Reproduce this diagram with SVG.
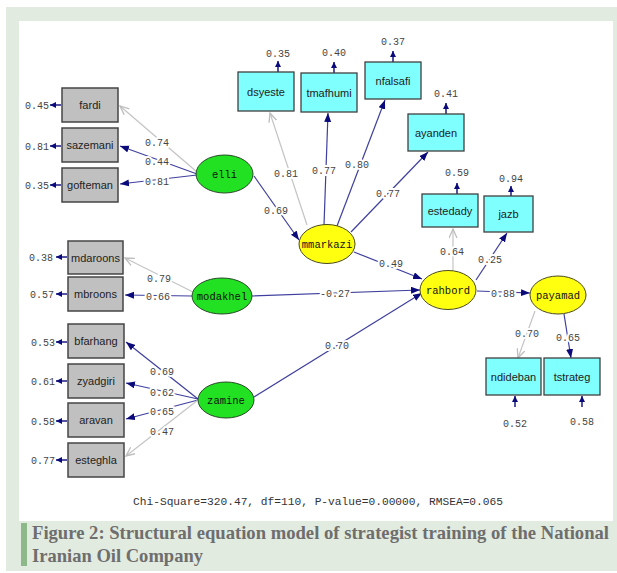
<svg xmlns="http://www.w3.org/2000/svg" width="617" height="573" viewBox="0 0 617 573">
<style>
.obs{fill:#c0c0c0;stroke:#454545;stroke-width:1.5}
.cy{fill:#80ffff;stroke:#404040;stroke-width:1.3}
.lg{fill:#22e022;stroke:#2a4a2a;stroke-width:1}
.ly{fill:#ffff10;stroke:#4a4a20;stroke-width:1}
.bt{font-family:"Liberation Sans",Arial,sans-serif;font-size:11px;fill:#222;text-anchor:middle}
.lt{font-family:"Liberation Mono","Courier New",monospace;font-size:10.5px;fill:#111;text-anchor:middle}
.num{font-family:"Liberation Mono","Courier New",monospace;font-size:10px;fill:#444;text-anchor:middle}
.coef{paint-order:stroke;stroke:#fff;stroke-width:4px;stroke-linejoin:round}
.nv{stroke:#3f3f9e;stroke-width:1.2;fill:none;marker-end:url(#an)}
.gr{stroke:#c4c4c4;stroke-width:1.2;fill:none;marker-end:url(#ag)}
.er{stroke:#1a1a80;stroke-width:1.5;fill:none;marker-end:url(#ae)}
.cap{font-family:"Liberation Serif","Times New Roman",serif;font-weight:bold;font-size:18px;fill:#6e6e6e}
</style>
<defs>
<marker id="an" markerUnits="userSpaceOnUse" markerWidth="10" markerHeight="8" refX="9" refY="3.5" orient="auto"><path d="M0,0 L9,3.5 L0,7 z" fill="#0a0a7a"/></marker>
<marker id="ag" markerUnits="userSpaceOnUse" markerWidth="11" markerHeight="10" refX="9" refY="4.5" orient="auto"><path d="M0,0.5 L9,4.5 L0,8.5" fill="none" stroke="#bdbdbd" stroke-width="1.3"/></marker>
<marker id="ae" markerUnits="userSpaceOnUse" markerWidth="8" markerHeight="7" refX="6" refY="3" orient="auto"><path d="M0,0 L6,3 L0,6 z" fill="#0a0a7a"/></marker>
</defs>
<rect x="6" y="7" width="611" height="564" fill="#e2ebe0"/>
<rect x="19" y="21" width="594" height="500" fill="#ffffff"/>

<g id="connectors">
<path class="gr" d="M197,172 L120,106"/>
<path class="nv" d="M197,174 L120,146"/>
<path class="nv" d="M197,175 L120,184"/>
<path class="nv" d="M254,176 L299,240"/>
<path class="gr" d="M307,225 L270,113"/>
<path class="nv" d="M324,225 L328,113"/>
<path class="nv" d="M337,226 L385,100"/>
<path class="nv" d="M351,232 L428,152"/>
<path class="nv" d="M354,252 L422,279"/>
<path class="nv" d="M252,296 L420,290"/>
<path class="nv" d="M254,397 L422,293"/>
<path class="gr" d="M453,271 L453,229"/>
<path class="nv" d="M476,280 L507,233"/>
<path class="nv" d="M477,291 L530,293"/>
<path class="gr" d="M535,311 L518,358"/>
<path class="nv" d="M564,314 L571,358"/>
<path class="gr" d="M193,292 L125,258"/>
<path class="nv" d="M192,296 L125,295"/>
<path class="nv" d="M198,399 L126,342"/>
<path class="nv" d="M198,399 L126,383"/>
<path class="nv" d="M198,400 L126,419"/>
<path class="gr" d="M198,400 L126,456"/>
<path class="er" d="M61,105 L50,105"/>
<path class="er" d="M61,146 L50,146"/>
<path class="er" d="M61,185 L50,185"/>
<path class="er" d="M67,257 L56,257"/>
<path class="er" d="M67,294 L56,294"/>
<path class="er" d="M67,342 L56,342"/>
<path class="er" d="M67,381 L56,381"/>
<path class="er" d="M67,421 L56,421"/>
<path class="er" d="M67,460 L56,460"/>
<path class="er" d="M278,72 L278,61"/>
<path class="er" d="M334,73 L334,62"/>
<path class="er" d="M393,62 L393,51"/>
<path class="er" d="M446,114 L446,103"/>
<path class="er" d="M457,194 L457,183"/>
<path class="er" d="M511,196 L511,186"/>
<path class="er" d="M515,407 L515,396"/>
<path class="er" d="M582,407 L582,396"/>
</g>

<g id="coefficients">
<text class="num coef" x="157" y="145.5">0.74</text>
<text class="num coef" x="157" y="164.5">0.44</text>
<text class="num coef" x="157" y="184.5">0.81</text>
<text class="num coef" x="276" y="213.5">0.69</text>
<text class="num coef" x="286" y="176.5">0.81</text>
<text class="num coef" x="324" y="173.5">0.77</text>
<text class="num coef" x="357" y="167.5">0.80</text>
<text class="num coef" x="388" y="196.5">0.77</text>
<text class="num coef" x="391" y="266.5">0.49</text>
<text class="num coef" x="335" y="296.5">-0.27</text>
<text class="num coef" x="337" y="348.5">0.70</text>
<text class="num coef" x="452" y="254.5">0.64</text>
<text class="num coef" x="490" y="262.5">0.25</text>
<text class="num coef" x="503" y="296.5">0.88</text>
<text class="num coef" x="527" y="336.5">0.70</text>
<text class="num coef" x="568" y="340.5">0.65</text>
<text class="num coef" x="159" y="281.5">0.79</text>
<text class="num coef" x="158" y="299.5">0.66</text>
<text class="num coef" x="162" y="374.5">0.69</text>
<text class="num coef" x="162" y="395.5">0.62</text>
<text class="num coef" x="162" y="414.5">0.65</text>
<text class="num coef" x="162" y="434.5">0.47</text>
</g>

<g id="errors">
<text class="num" x="37" y="109">0.45</text>
<text class="num" x="37" y="150">0.81</text>
<text class="num" x="37" y="189">0.35</text>
<text class="num" x="41" y="261">0.38</text>
<text class="num" x="42" y="298">0.57</text>
<text class="num" x="43" y="346">0.53</text>
<text class="num" x="43" y="385">0.61</text>
<text class="num" x="43" y="425">0.58</text>
<text class="num" x="43" y="464">0.77</text>
<text class="num" x="278" y="57">0.35</text>
<text class="num" x="334" y="56">0.40</text>
<text class="num" x="393" y="45">0.37</text>
<text class="num" x="446" y="97">0.41</text>
<text class="num" x="457" y="176">0.59</text>
<text class="num" x="511" y="182">0.94</text>
<text class="num" x="515" y="427">0.52</text>
<text class="num" x="582" y="425">0.58</text>
</g>

<g id="fardi"><rect class="obs" x="62" y="88" width="56" height="34"/><text class="bt" x="90" y="109">fardi</text></g>
<g id="sazemani"><rect class="obs" x="62" y="128" width="56" height="34"/><text class="bt" x="90" y="149">sazemani</text></g>
<g id="gofteman"><rect class="obs" x="62" y="168" width="56" height="34"/><text class="bt" x="90" y="189">gofteman</text></g>
<g id="mdaroons"><rect class="obs" x="68" y="241" width="55" height="33"/><text class="bt" x="95.5" y="261.5">mdaroons</text></g>
<g id="mbroons"><rect class="obs" x="68" y="277" width="55" height="34"/><text class="bt" x="95.5" y="298">mbroons</text></g>
<g id="bfarhang"><rect class="obs" x="68" y="324" width="56" height="34"/><text class="bt" x="96" y="345">bfarhang</text></g>
<g id="zyadgiri"><rect class="obs" x="68" y="364" width="56" height="34"/><text class="bt" x="96" y="385">zyadgiri</text></g>
<g id="aravan"><rect class="obs" x="68" y="403" width="56" height="34"/><text class="bt" x="96" y="424">aravan</text></g>
<g id="esteghla"><rect class="obs" x="68" y="443" width="56" height="34"/><text class="bt" x="96" y="464">esteghla</text></g>

<g id="dsyeste"><rect class="cy" x="238" y="72" width="56" height="39"/><text class="bt" x="266" y="95.5">dsyeste</text></g>
<g id="tmafhumi"><rect class="cy" x="301" y="73" width="56" height="39"/><text class="bt" x="329" y="96.5">tmafhumi</text></g>
<g id="nfalsafi"><rect class="cy" x="365" y="62" width="56" height="37"/><text class="bt" x="393" y="84.5">nfalsafi</text></g>
<g id="ayanden"><rect class="cy" x="408" y="114" width="56" height="37"/><text class="bt" x="436" y="136.5">ayanden</text></g>
<g id="estedady"><rect class="cy" x="422" y="194" width="56" height="33"/><text class="bt" x="450" y="214.5">estedady</text></g>
<g id="jazb"><rect class="cy" x="484" y="196" width="49" height="36"/><text class="bt" x="508.5" y="218">jazb</text></g>
<g id="ndideban"><rect class="cy" x="486" y="358" width="55" height="37"/><text class="bt" x="513.5" y="380.5">ndideban</text></g>
<g id="tstrateg"><rect class="cy" x="544" y="358" width="56" height="37"/><text class="bt" x="572" y="380.5">tstrateg</text></g>

<g id="elli"><ellipse class="lg" cx="224.5" cy="174" rx="28.5" ry="19"/><text class="lt" x="224.5" y="177.5">elli</text></g>
<g id="modakhel"><ellipse class="lg" cx="222" cy="296" rx="30" ry="18"/><text class="lt" x="222" y="299.5">modakhel</text></g>
<g id="zamine"><ellipse class="lg" cx="226" cy="400" rx="28" ry="18"/><text class="lt" x="226" y="403.5">zamine</text></g>
<g id="mmarkazi"><ellipse class="ly" cx="327" cy="244" rx="28" ry="19.5"/><text class="lt" x="327" y="247.5">mmarkazi</text></g>
<g id="rahbord"><ellipse class="ly" cx="448" cy="290" rx="28" ry="19.5"/><text class="lt" x="448" y="293.5">rahbord</text></g>
<g id="payamad"><ellipse class="ly" cx="558" cy="295" rx="28" ry="19"/><text class="lt" x="558" y="298.5">payamad</text></g>

<text class="num" x="318" y="505" style="font-size:11px;fill:#333" textLength="370" lengthAdjust="spacingAndGlyphs">Chi-Square=320.47, df=110, P-value=0.00000, RMSEA=0.065</text>

<rect x="21" y="523" width="6" height="43" fill="#8db88a"/>
<text class="cap" transform="translate(32,539) scale(1,1.1)" x="0" y="0" textLength="577" lengthAdjust="spacingAndGlyphs">Figure 2: Structural equation model of strategist training of the National</text>
<text class="cap" transform="translate(32,562) scale(1,1.1)" x="0" y="0" textLength="171" lengthAdjust="spacingAndGlyphs">Iranian Oil Company</text>
</svg>
